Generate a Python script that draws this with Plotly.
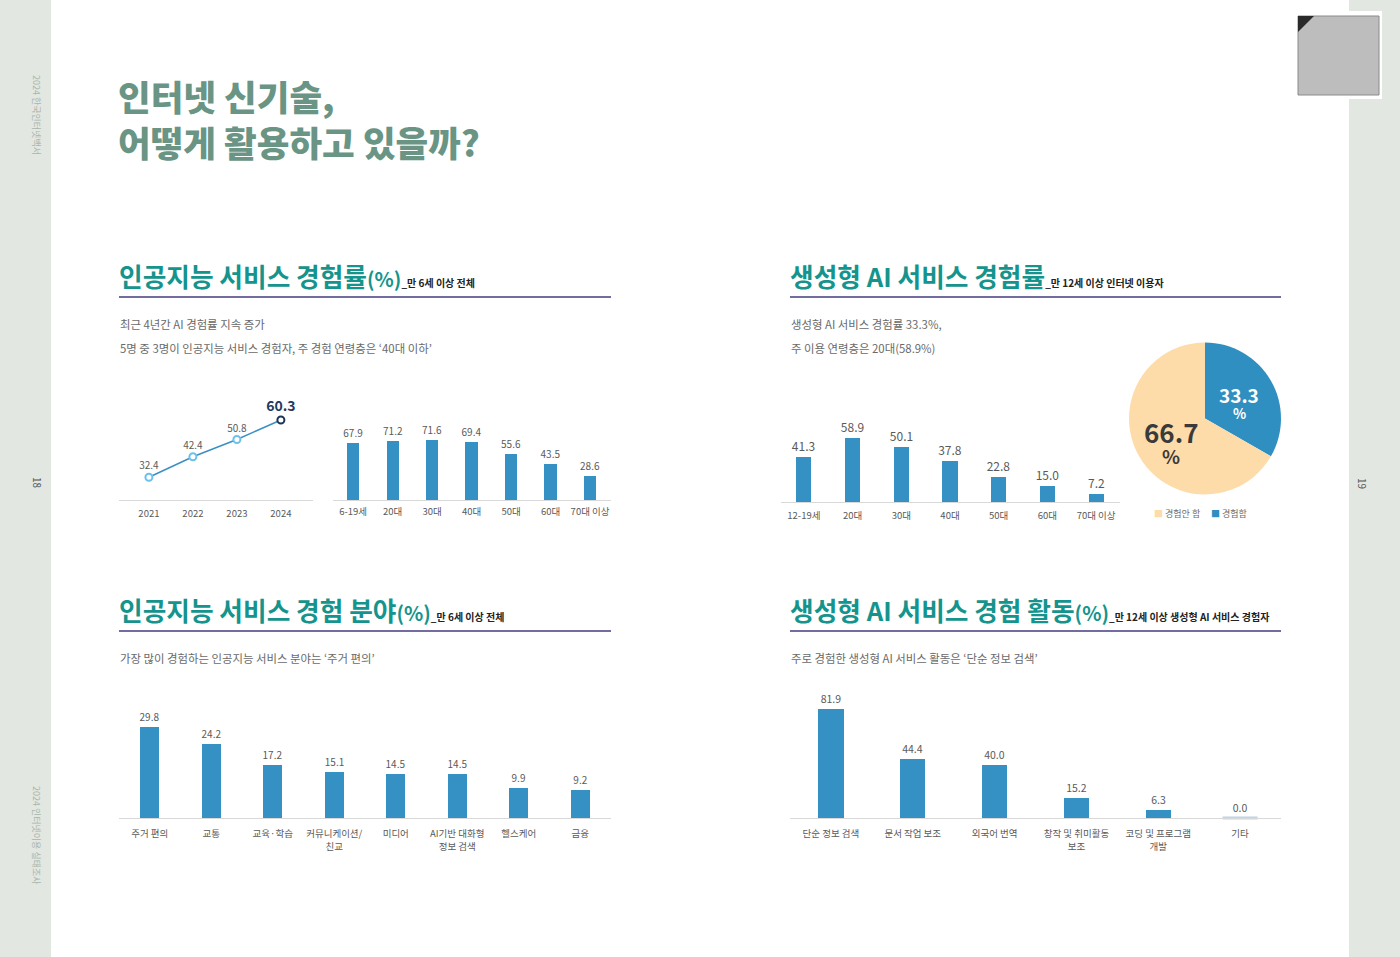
import math
import plotly.graph_objects as go

W, H = 1400, 957
def fx(x): return x / W
def fy(y): return 1 - y / H

# ---------------- data ----------------
years = ["2021", "2022", "2023", "2024"]
ai_rate = [32.4, 42.4, 50.8, 60.3]

ai_age_groups = ["6-19세", "20대", "30대", "40대", "50대", "60대", "70대 이상"]
ai_age_values = [67.9, 71.2, 71.6, 69.4, 55.6, 43.5, 28.6]

gen_age_groups = ["12-19세", "20대", "30대", "40대", "50대", "60대", "70대 이상"]
gen_age_values = [41.3, 58.9, 50.1, 37.8, 22.8, 15.0, 7.2]

pie_labels = ["경험함", "경험안 함"]
pie_values = [33.3, 66.7]

ai_fields = ["주거 편의", "교통", "교육·학습", "커뮤니케이션/<br>친교", "미디어",
             "AI기반 대화형<br>정보 검색", "헬스케어", "금융"]
ai_field_values = [29.8, 24.2, 17.2, 15.1, 14.5, 14.5, 9.9, 9.2]

gen_acts = ["단순 정보 검색", "문서 작업 보조", "외국어 번역", "창작 및 취미활동<br>보조",
            "코딩 및 프로그램<br>개발", "기타"]
gen_act_values = [81.9, 44.4, 40.0, 15.2, 6.3, 0.0]

# ---------------- style ----------------
FONT = "Noto Sans CJK KR"
BAR = "#3591c3"
CREAM = "#fddcaa"
PIE_BLUE = "#2f8fc1"
TEAL = "#15948d"
SAGE = "#6a9585"
GREY_TXT = "#5a5a5a"
RULE = "#736c9f"
SIDE = "#e2e7e1"
pie_colors = [PIE_BLUE, CREAM]
pie_text_colors = ["white", "#3a3a3a"]
pie_text_sizes = [19, 26]

fig = go.Figure()

# line chart
fig.add_trace(go.Scatter(
    x=years, y=ai_rate, mode="lines+markers+text",
    text=[f"{v:.1f}" if i < len(ai_rate) - 1 else f"<b>{v:.1f}</b>" for i, v in enumerate(ai_rate)],
    textposition="top center",
    textfont=dict(size=[10] * (len(ai_rate) - 1) + [14],
                  color=[GREY_TXT] * (len(ai_rate) - 1) + ["#1f3a5f"], family=FONT),
    line=dict(color="#3b8fc3", width=1.5),
    marker=dict(size=7, color="white",
                line=dict(color=["#6cc0ee"] * (len(ai_rate) - 1) + ["#1d3557"], width=2)),
    cliponaxis=False, xaxis="x", yaxis="y", showlegend=False, hoverinfo="skip"))

def bar_trace(cats, vals, ax, width, tsize):
    return go.Bar(x=cats, y=vals, width=width, marker_color=BAR, marker_line_width=0,
                  texttemplate="%{y:.1f}", textposition="outside", constraintext="none",
                  textfont=dict(size=tsize, color=GREY_TXT, family=FONT),
                  cliponaxis=False, xaxis="x" + ax, yaxis="y" + ax, showlegend=False,
                  hoverinfo="skip")

fig.add_trace(bar_trace(ai_age_groups, ai_age_values, "2", 0.31, 10))
fig.add_trace(bar_trace(gen_age_groups, gen_age_values, "3", 0.31, 12))
fig.add_trace(bar_trace(ai_fields, ai_field_values, "4", 0.31, 10))
fig.add_trace(bar_trace(gen_acts, gen_act_values, "5", 0.31, 10.5))
# zero-value marker for activity chart
zero_cats = [c for c, v in zip(gen_acts, gen_act_values) if v == 0]
fig.add_trace(go.Scatter(x=zero_cats, y=[0] * len(zero_cats), mode="markers",
                         marker=dict(symbol="line-ew", size=25, line=dict(color="#b9d6ec", width=3)),
                         xaxis="x5", yaxis="y5", showlegend=False, hoverinfo="skip", cliponaxis=False))

# pie
PIE_X0, PIE_X1, PIE_YT, PIE_YB = 1129, 1281, 342, 495
fig.add_trace(go.Pie(
    labels=pie_labels, values=pie_values, sort=False, direction="clockwise", rotation=0,
    marker=dict(colors=pie_colors, line=dict(width=0)), textinfo="none",
    domain=dict(x=[fx(PIE_X0), fx(PIE_X1)], y=[fy(PIE_YB), fy(PIE_YT)]),
    showlegend=False, hoverinfo="skip"))

# ---------------- axes ----------------
def axes(suffix, x0, x1, ybot, ytop, yrange, xrange, ticklen, tsize=9.5):
    xa = dict(domain=[fx(x0), fx(x1)], anchor="y" + suffix, range=xrange, type="category",
              showline=True, linecolor="#d9d9d9", linewidth=1, ticks="outside", ticklen=ticklen,
              tickcolor="rgba(0,0,0,0)", tickfont=dict(size=tsize, color=GREY_TXT, family=FONT),
              showgrid=False, zeroline=False, fixedrange=True)
    ya = dict(domain=[fy(ybot), fy(ytop)], anchor="x" + suffix, range=yrange, visible=False,
              fixedrange=True)
    return xa, ya

lay = {}
for suffix, args in [
    ("", (119, 313, 500, 390, [21.35, 74.9], [-0.68, 3.73], 5)),
    ("2", (333, 611, 500, 400, [0, 119.8], [-0.51, 6.53], 3)),
    ("3", (781, 1120, 502, 402, [0, 91.9], [-0.47, 6.49], 5)),
    ("4", (119, 611, 818, 698, [0, 39.3], [-0.5, 7.5], 7)),
    ("5", (790, 1281, 818, 698, [0, 89.9], [-0.5, 5.5], 7)),
]:
    xa, ya = axes(suffix, *args)
    lay["xaxis" + suffix] = xa
    lay["yaxis" + suffix] = ya

# ---------------- decorations ----------------
shapes = [
    dict(type="rect", xref="paper", yref="paper", x0=0, x1=fx(51), y0=0, y1=1,
         fillcolor=SIDE, line_width=0, layer="below"),
    dict(type="rect", xref="paper", yref="paper", x0=fx(1349), x1=1, y0=0, y1=1,
         fillcolor=SIDE, line_width=0, layer="below"),
    # QR code placeholder
    dict(type="rect", xref="paper", yref="paper", x0=fx(1294), x1=fx(1382), y0=fy(99), y1=fy(11),
         fillcolor="white", line_width=0, layer="below"),
    dict(type="rect", xref="paper", yref="paper", x0=fx(1298), x1=fx(1379), y0=fy(95), y1=fy(16),
         fillcolor="#bdbdbd", line=dict(color="#8a8a8a", width=1), layer="below"),
    dict(type="path", xref="paper", yref="paper",
         path=f"M {fx(1298)},{fy(16)} L {fx(1314)},{fy(16)} L {fx(1298)},{fy(32)} Z",
         fillcolor="#2a2a2a", line_width=0),
]
for (x0, x1, y) in [(119, 611, 297), (790, 1281, 297), (119, 611, 631), (790, 1281, 631)]:
    shapes.append(dict(type="line", xref="paper", yref="paper", x0=fx(x0), x1=fx(x1),
                       y0=fy(y), y1=fy(y), line=dict(color=RULE, width=2)))

annotations = []
def ann(x, y, text, size, color, xanchor="left", angle=0, weight=None):
    f = dict(size=size, color=color, family=FONT)
    if weight:
        f["weight"] = weight
    annotations.append(dict(x=fx(x), y=fy(y), xref="paper", yref="paper", text=text,
                            showarrow=False, xanchor=xanchor, yanchor="middle", textangle=angle,
                            font=f))

ann(116, 95, "인터넷 신기술,", 35.5, SAGE, weight=900)
ann(116, 142, "어떻게 활용하고 있을까?", 35.5, SAGE, weight=900)

def header(x, y, main, pct, sub):
    t = (f"<b>{main}<span style='font-size:20px'>{pct}</span>"
         f"<span style='font-size:10px;color:#222222'>_{sub}</span></b>")
    ann(x, y, t, 25.7, TEAL)

header(117, 276, "인공지능 서비스 경험률", "(%)", "만 6세 이상 전체")
header(788, 276, "생성형 AI 서비스 경험률", "", "만 12세 이상 인터넷 이용자")
header(117, 609, "인공지능 서비스 경험 분야", "(%)", "만 6세 이상 전체")
header(788, 609, "생성형 AI 서비스 경험 활동", "(%)", "만 12세 이상 생성형 AI 서비스 경험자")

BODY = "#6a6a6a"
BS = 11.4
ann(118, 324, "최근 4년간 AI 경험률 지속 증가", BS, BODY)
ann(118, 348, "5명 중 3명이 인공지능 서비스 경험자, 주 경험 연령층은 ‘40대 이하’", BS, BODY)
ann(789, 324, "생성형 AI 서비스 경험률 33.3%,", BS, BODY)
ann(789, 348, "주 이용 연령층은 20대(58.9%)", BS, BODY)
ann(118, 658, "가장 많이 경험하는 인공지능 서비스 분야는 ‘주거 편의’", BS, BODY)
ann(789, 658, "주로 경험한 생성형 AI 서비스 활동은 ‘단순 정보 검색’", BS, BODY)

# pie slice labels, placed along each slice's mid angle
cx, cy = (PIE_X0 + PIE_X1) / 2, (PIE_YT + PIE_YB) / 2
R = (PIE_X1 - PIE_X0) / 2
total = sum(pie_values)
cum = 0
for v, col, sz in zip(pie_values, pie_text_colors, pie_text_sizes):
    mid = (cum + v / 2) / total * 2 * math.pi
    cum += v
    r = R * 0.52
    lx, ly = cx + r * math.sin(mid), cy - r * math.cos(mid) + 5
    ann(lx, ly - sz * 0.47, f"<b>{v:.1f}</b>", sz, col, xanchor="center")
    ann(lx, ly + sz * 0.47, "<b>%</b>", sz * 0.72, col, xanchor="center")

# pie legend (listed in reverse slice order, as in the original)
for i, (lab, col) in enumerate(zip(pie_labels[::-1], pie_colors[::-1])):
    ann(1152 + i * 57, 513, f"<span style='color:{col}'>■</span> {lab}", 9, "#6a6a6a")

# side texts
ann(37, 115, "2024 한국인터넷백서", 9, "#a9b5aa", xanchor="center", angle=90)
ann(37, 483, "18", 10, "#555555", xanchor="center", angle=90)
ann(37, 835, "2024 인터넷이용 실태조사", 9, "#a9b5aa", xanchor="center", angle=90)
ann(1362, 483, "19", 10, "#555555", xanchor="center", angle=90)

fig.update_layout(width=W, height=H, margin=dict(l=0, r=0, t=0, b=0),
                  paper_bgcolor="white", plot_bgcolor="rgba(0,0,0,0)",
                  font=dict(family=FONT, color=GREY_TXT), bargap=0,
                  shapes=shapes, annotations=annotations, **lay)

fig.write_html("out.html")
